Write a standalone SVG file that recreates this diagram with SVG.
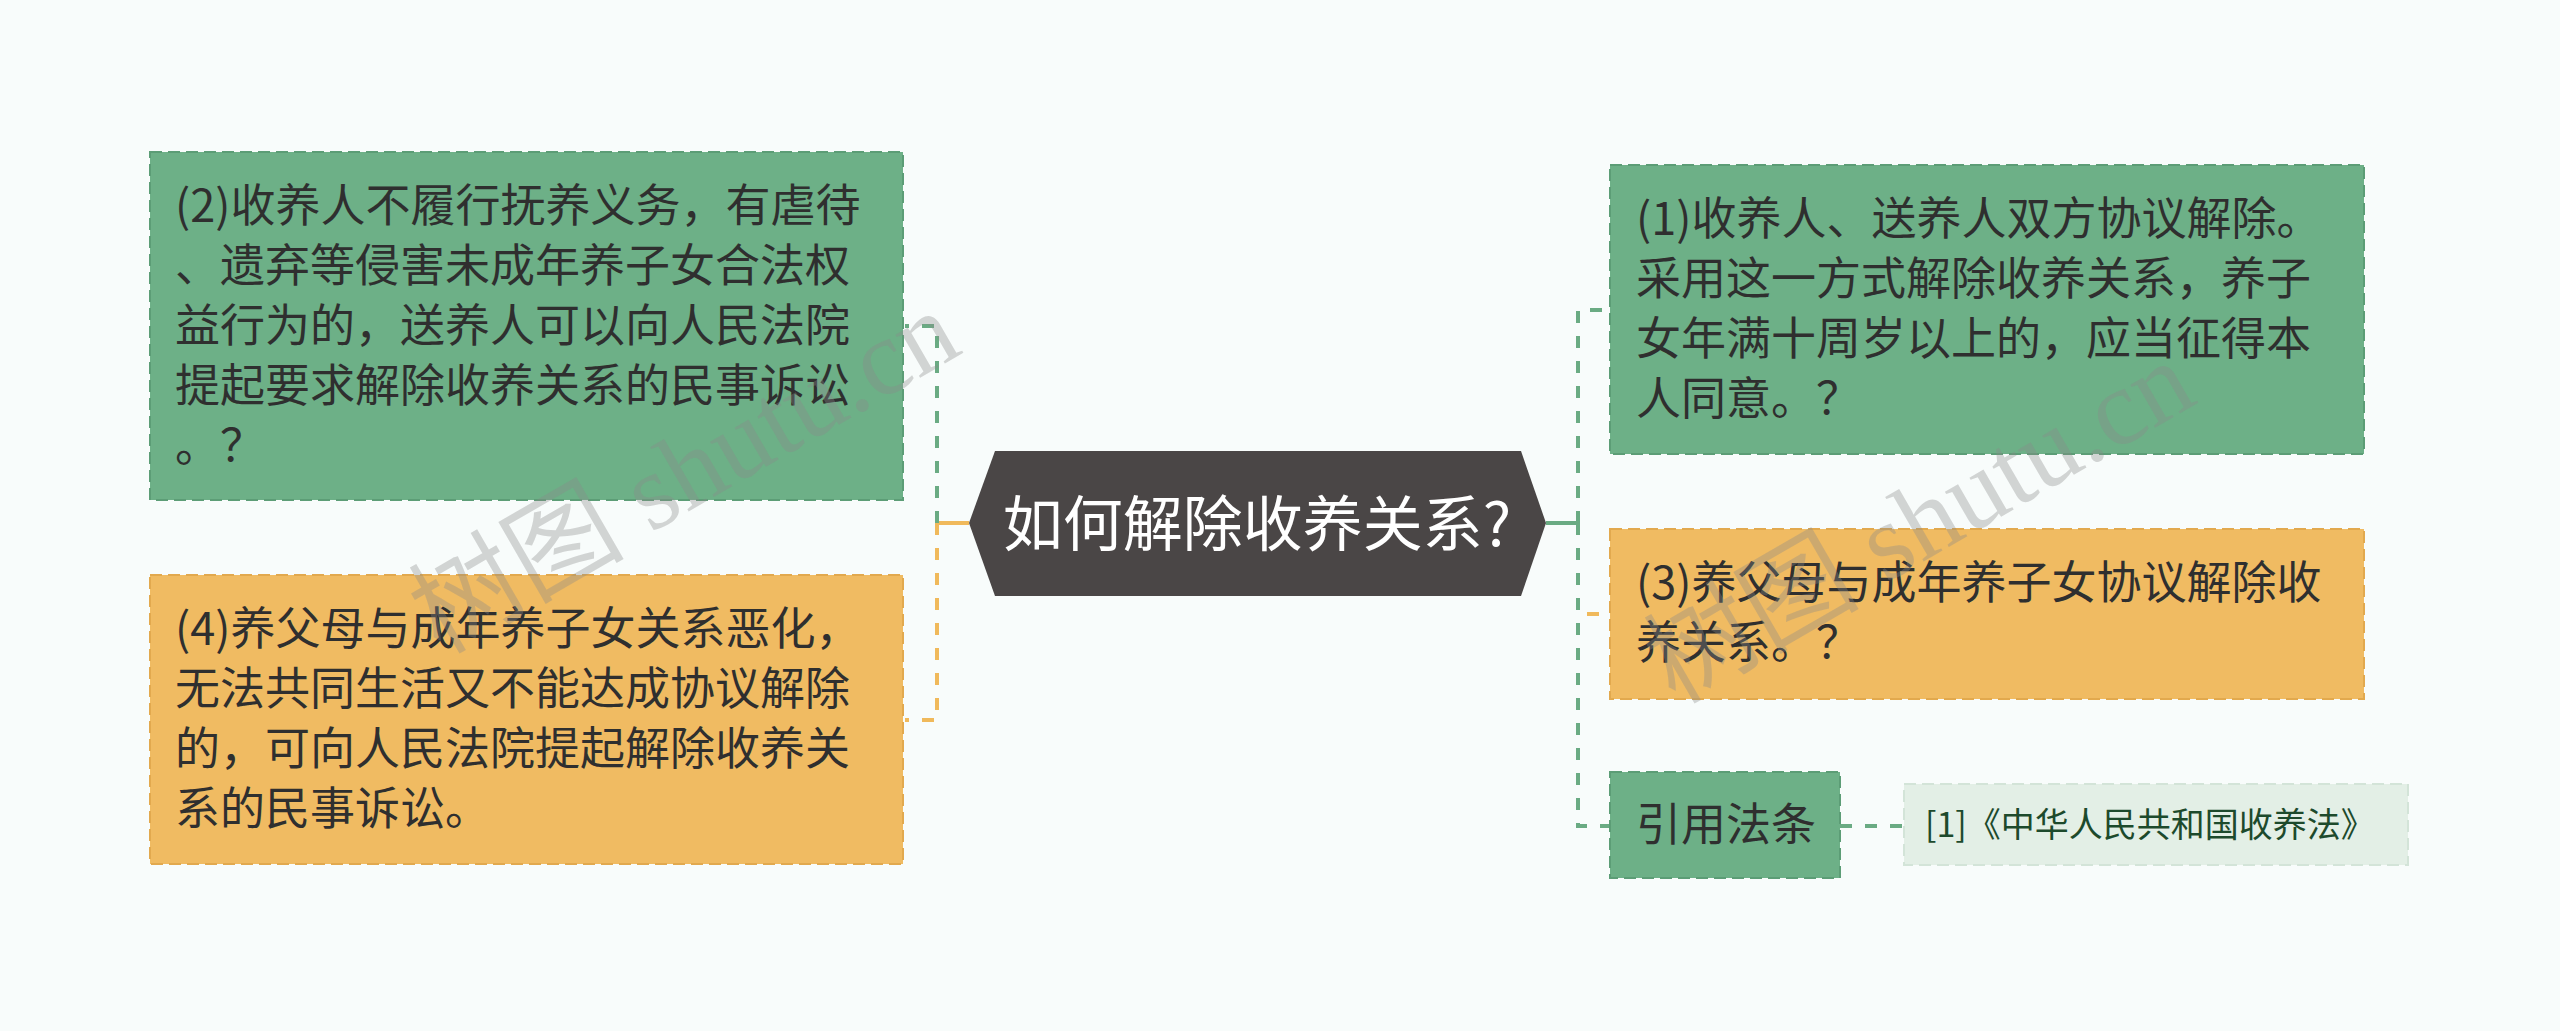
<svg xmlns="http://www.w3.org/2000/svg" width="2560" height="1031" viewBox="0 0 2560 1031">
<style>
.bg{fill:#f8fcfb}
.g{fill:#6db087;stroke:#5c9d76;stroke-width:2;stroke-dasharray:12 6}
.o{fill:#f0bb62;stroke:#e2a94e;stroke-width:2;stroke-dasharray:12 6}
.r{fill:#e3efe6;stroke:#d3e4d8;stroke-width:2;stroke-dasharray:12 6}
.t{font-family:"Noto Sans CJK SC","Noto Sans",sans-serif;font-size:45px;fill:#2f2f2f}
.tr{font-family:"Noto Sans CJK SC","Noto Sans",sans-serif;font-size:34px;fill:#1d4a2c}
.tc{font-family:"Noto Sans CJK SC","Noto Sans",sans-serif;font-size:60px;fill:#ffffff}
.cg{fill:none;stroke:#6aab83;stroke-width:4}
.co{fill:none;stroke:#f0b95b;stroke-width:4}
.d{stroke-dasharray:12 13}
.wm{font-family:"Liberation Serif","Noto Sans CJK SC",serif;font-size:108px;fill:#8a8a8a;fill-opacity:0.35}
</style>
<rect class="bg" x="0" y="0" width="2560" height="1031"/>
<g id="connectors">
<path class="co" d="M969 523H937"/>
<path class="cg d" d="M937 523V326H905"/>
<path class="co d" d="M937 523V720H905"/>
<path class="cg" d="M1546 523H1578"/>
<path class="co d" d="M1578 523V614H1610"/>
<path class="cg d" d="M1578 523V310H1610"/>
<path class="cg d" d="M1578 523V826H1610"/>
<path class="cg d" d="M1840 826H1904"/>
</g>
<g id="root">
<polygon points="969,523 995,451 1521,451 1546,523 1521,596 995,596" fill="#4a4646"/>
<text class="tc" x="1257" y="546" text-anchor="middle">如何解除收养关系?</text>
</g>
<g id="node2">
<rect class="g" x="150" y="152" width="753" height="348"/>
<text class="t" x="175" y="222">(2)收养人不履行抚养义务，有虐待</text>
<text class="t" x="175" y="282">、遗弃等侵害未成年养子女合法权</text>
<text class="t" x="175" y="342">益行为的，送养人可以向人民法院</text>
<text class="t" x="175" y="402">提起要求解除收养关系的民事诉讼</text>
<text class="t" x="175" y="462">。？</text>
</g>
<g id="node4">
<rect class="o" x="150" y="575" width="753" height="289"/>
<text class="t" x="175" y="645">(4)养父母与成年养子女关系恶化，</text>
<text class="t" x="175" y="705">无法共同生活又不能达成协议解除</text>
<text class="t" x="175" y="765">的，可向人民法院提起解除收养关</text>
<text class="t" x="175" y="825">系的民事诉讼。</text>
</g>
<g id="node1">
<rect class="g" x="1610" y="165" width="754" height="289"/>
<text class="t" x="1636" y="235">(1)收养人、送养人双方协议解除。</text>
<text class="t" x="1636" y="295">采用这一方式解除收养关系，养子</text>
<text class="t" x="1636" y="355">女年满十周岁以上的，应当征得本</text>
<text class="t" x="1636" y="415">人同意。？</text>
</g>
<g id="node3">
<rect class="o" x="1610" y="529" width="754" height="170"/>
<text class="t" x="1636" y="599">(3)养父母与成年养子女协议解除收</text>
<text class="t" x="1636" y="659">养关系。？</text>
</g>
<g id="law">
<rect class="g" x="1610" y="772" width="230" height="106"/>
<text class="t" x="1636" y="841">引用法条</text>
</g>
<g id="ref">
<rect class="r" x="1904" y="784" width="504" height="81"/>
<text class="tr" x="1925" y="837">[1]《中华人民共和国收养法》</text>
</g>
<g id="watermark">
<text class="wm" transform="translate(440,655) rotate(-30)">树图 shutu.cn</text>
<text class="wm" transform="translate(1675,705) rotate(-30)">树图 shutu.cn</text>
</g>
</svg>
